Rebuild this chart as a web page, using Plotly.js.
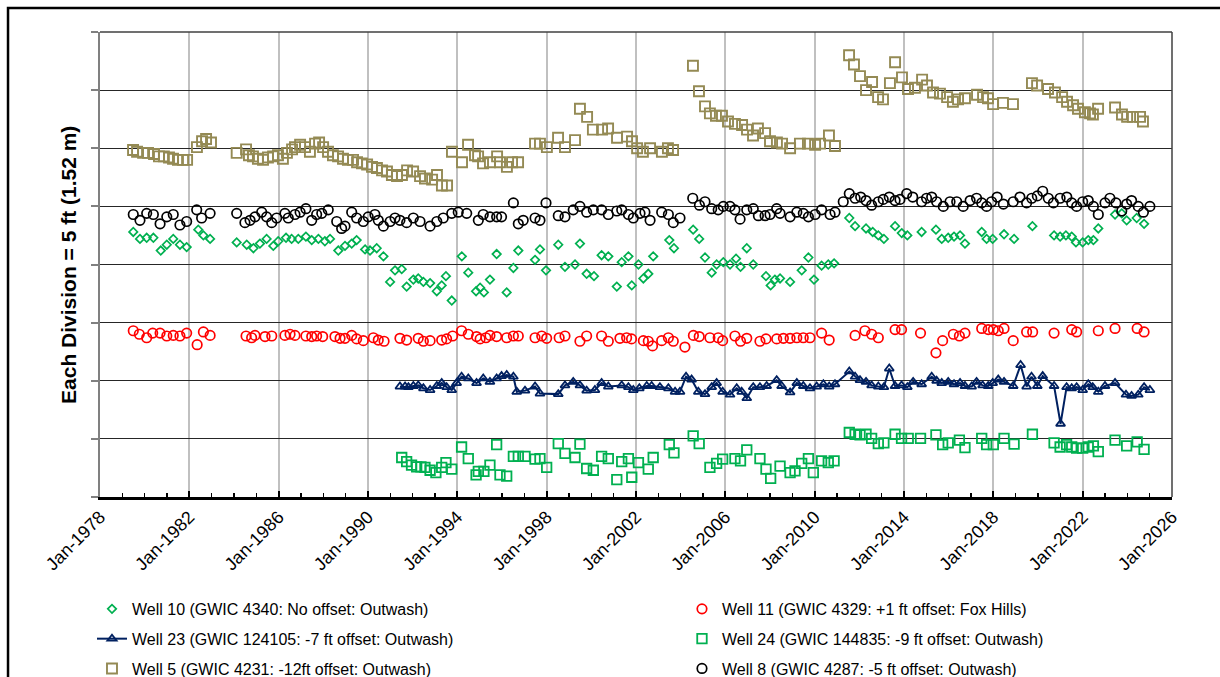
<!DOCTYPE html>
<html><head><meta charset="utf-8">
<script src="https://cdn.plot.ly/plotly-3.0.1.min.js"></script>
<style>html,body{margin:0;padding:0;background:#fff;} #chart{width:1220px;height:677px;}</style>
</head><body><div id="chart"></div>
<script>
// Tick positions (decimal years) and labels
const tickYears = [1978,1982,1986,1990,1994,1998,2002,2006,2010,2014,2018,2022,2026];
const tickLabels = ['Jan-1978','Jan-1982','Jan-1986','Jan-1990','Jan-1994','Jan-1998','Jan-2002','Jan-2006','Jan-2010','Jan-2014','Jan-2018','Jan-2022','Jan-2026'];
const yTitle = 'Each Division = 5 ft (1.52 m)';

// Well 10 (GWIC 4340)
const w10x = [1979.49,1979.79,1980.09,1980.39,1980.72,1980.99,1981.28,1981.58,1981.88,1982.40,1982.63,1982.93,
1984.12,1984.57,1984.87,1985.16,1985.46,1985.76,1985.98,1986.33,1986.58,1986.88,
1987.22,1987.48,1987.78,1988.07,1988.30,1988.67,1988.97,1989.27,1989.49,1989.87,
1990.09,1990.39,1990.69,1990.99,1991.21,1991.51,1991.73,1992.03,1992.25,1992.48,
1992.78,1993.08,1993.30,1993.49,1993.75,
1994.20,1994.49,1994.84,1995.02,1995.19,1995.46,1995.76,1996.21,1996.51,1996.73,
1997.48,1997.70,1997.97,1998.52,1998.82,1999.27,1999.49,1999.79,2000.12,2000.46,
2000.76,2001.14,2001.36,2001.66,2001.81,2002.11,2002.33,2002.55,2002.77,2003.49,
2003.70,2004.56,2004.83,2005.09,2005.39,2005.61,2005.91,2006.21,2006.48,2006.68,
2006.96,2007.25,2007.82,2008.03,2008.22,2008.45,2008.90,2009.42,2009.72,2009.97,
2010.31,2010.61,2010.87,
2011.55,2011.81,2012.30,2012.60,2012.85,2013.10,2013.60,2013.90,2014.15,2014.79,
2015.43,2015.69,2015.98,2016.24,2016.51,2016.73,2017.48,2017.70,2017.97,2018.48,
2018.93,2019.75,2020.72,2020.99,2021.25,2021.51,2021.70,2022.00,2022.25,2022.48,
2022.70,2023.45,2023.75,2023.97,2024.42,2024.75];
const w10y = [22.8,22.2,22.3,22.3,21.2,21.7,22.2,21.7,21.5,23.0,22.5,22.2,
21.9,21.7,21.4,21.8,22.2,21.6,22.0,22.3,22.2,22.2,
22.4,22.1,22.2,22.0,22.2,21.2,21.6,21.8,22.1,21.3,
21.2,21.4,20.7,18.5,19.5,19.6,18.1,18.7,18.8,18.5,
18.4,17.7,18.2,19.0,16.9,
20.7,19.3,17.7,18.0,17.6,18.7,20.9,17.6,19.7,21.2,
20.4,21.3,19.5,21.7,19.8,20.0,21.8,19.2,19.0,20.8,
20.7,18.1,20.2,20.7,18.2,20.0,18.8,19.2,20.7,22.1,
21.4,23.0,22.2,20.6,19.3,20.0,20.2,20.0,20.5,19.8,
21.4,20.0,19.0,18.2,18.7,18.8,18.5,19.5,20.6,18.7,
19.9,20.0,20.1,
24.0,23.3,23.1,22.8,22.5,22.2,23.3,22.7,22.5,22.8,
23.0,22.2,22.3,22.4,22.5,21.8,22.8,22.2,22.2,22.6,
22.2,23.3,22.5,22.4,22.5,22.4,21.9,21.9,22.1,22.1,
23.1,24.3,24.4,23.8,24.0,23.5];

// Well 11 (GWIC 4329)
const w11x = [1979.49,1979.76,1980.09,1980.36,1980.69,1980.99,1981.28,1981.58,1981.88,1982.35,1982.63,1982.93,
1984.54,1984.79,1984.94,1985.39,1985.69,1986.28,1986.51,1986.73,1987.22,1987.48,
1987.70,1987.97,1988.52,1988.75,1988.97,1989.27,1989.49,1989.79,1990.24,1990.46,
1990.72,1991.43,1991.73,1992.25,1992.48,1992.78,1993.30,1993.52,1993.79,1994.19,
1994.49,1994.86,1995.02,1995.28,1995.46,1995.76,1996.21,1996.51,1996.73,1997.48,
1997.78,1998.00,1998.56,1998.82,1999.49,1999.79,2000.46,2000.76,2001.28,2001.58,
2001.80,2002.33,2002.55,2002.74,2003.15,2003.45,2003.67,2004.19,2004.57,2004.83,
2005.31,2005.68,2005.88,2006.43,2006.68,2006.96,2007.55,2007.82,2008.30,2008.60,
2008.90,2009.20,2009.49,2009.79,2010.31,2010.65,
2011.81,2012.25,2012.55,2012.85,2013.60,2013.89,2014.74,2015.43,2015.73,2016.21,
2016.48,2016.73,2017.48,2017.77,2018.00,2018.22,2018.48,2018.89,2019.49,2019.76,
2020.72,2021.51,2021.73,2022.70,2023.45,2024.44,2024.75];
const w11y = [14.3,14.0,13.7,14.1,14.1,13.85,13.9,13.85,14.1,13.1,14.2,13.9,
13.85,13.7,13.9,13.8,13.85,13.9,14.0,13.9,13.85,13.8,
13.85,13.8,13.8,13.65,13.65,13.9,13.6,13.45,13.7,13.5,
13.4,13.65,13.5,13.65,13.4,13.45,13.5,13.6,13.85,14.3,
14.0,13.8,13.6,13.7,13.9,13.8,13.7,13.85,13.85,13.7,
13.85,13.65,13.7,13.85,13.4,13.85,13.85,13.4,13.65,13.7,
13.6,13.45,13.4,13.0,13.45,13.7,13.4,12.9,13.9,13.8,
13.7,13.7,13.45,13.85,13.4,13.65,13.4,13.6,13.6,13.65,
13.65,13.7,13.7,13.7,14.1,13.5,
13.9,14.3,14.0,13.7,14.4,14.4,14.1,12.4,13.45,14.0,
13.85,14.1,14.5,14.4,14.4,14.3,14.5,13.45,14.2,14.2,
14.1,14.4,14.2,14.3,14.5,14.5,14.2];

// Well 23 (GWIC 124105)
const w23x = [1991.43,1991.66,1991.81,1992.03,1992.25,1992.48,1992.78,1993.08,1993.30,1993.52,
1993.75,1993.97,1994.19,1994.49,1994.86,1995.16,1995.46,1995.76,1995.98,1996.21,
1996.51,1996.66,1997.03,1997.48,1997.70,1998.52,1998.82,1999.19,1999.49,1999.79,
2000.16,2000.46,2000.76,2001.36,2001.66,2001.88,2002.15,2002.48,2002.70,2003.07,
2003.45,2003.75,2003.97,2004.24,2004.49,2004.79,2005.09,2005.39,2005.61,2005.88,
2006.21,2006.51,2006.73,2006.96,2007.25,2007.55,2007.85,2008.30,2008.52,2008.90,
2009.20,2009.49,2009.79,2010.09,2010.39,2010.65,2010.91,2011.55,2011.81,2012.03,
2012.30,2012.55,2012.85,2013.10,2013.34,2013.60,2013.89,2014.15,2014.41,2014.79,
2015.24,2015.46,2015.69,2015.98,2016.24,2016.51,2016.73,2017.03,2017.25,2017.52,
2017.77,2017.97,2018.22,2018.48,2018.89,2019.22,2019.49,2019.71,2019.97,2020.21,
2020.72,2021.01,2021.28,2021.51,2021.73,2022.00,2022.25,2022.45,2022.70,2023.00,
2023.45,2023.94,2024.19,2024.49,2024.75,2025.01];
const w23y = [9.5,9.5,9.45,9.55,9.6,9.35,9.2,9.55,9.8,9.45,
9.2,9.8,10.35,10.2,9.8,10.2,9.9,10.2,10.4,10.5,
10.35,9.05,9.15,9.5,8.9,8.85,9.6,9.9,9.6,9.15,
9.2,9.8,9.5,9.6,9.45,9.2,9.35,9.55,9.55,9.45,
9.35,9.05,9.05,10.35,10.1,9.05,8.85,9.45,9.8,9.05,
8.8,9.35,9.05,8.5,9.45,9.45,9.55,10.05,9.55,9.0,
9.8,9.55,9.35,9.5,9.7,9.5,9.7,10.8,10.35,10.05,
9.9,9.6,9.5,9.45,11.05,9.55,9.6,9.45,9.9,9.7,
10.35,10.0,9.8,9.9,9.7,9.8,9.55,9.5,9.9,9.6,
9.55,9.8,10.1,9.9,9.55,11.35,9.5,10.35,9.55,10.4,
9.55,6.3,9.45,9.35,9.45,9.2,9.7,9.45,9.05,9.55,
9.8,8.8,8.7,8.8,9.45,9.2];

// Well 24 (GWIC 144835)
const w24x = [1991.51,1991.73,1991.95,1992.18,1992.37,1992.55,1992.78,1993.04,1993.30,1993.49,
1993.75,1994.19,1994.49,1994.84,1994.94,1995.19,1995.46,1995.76,1995.91,1996.21,
1996.51,1996.73,1997.03,1997.48,1997.70,1998.00,1998.52,1998.82,1999.27,1999.49,
1999.79,2000.09,2000.46,2000.76,2001.14,2001.36,2001.66,2001.81,2002.11,2002.55,
2002.77,2003.49,2003.70,2004.56,2004.83,2005.31,2005.61,2005.88,2006.43,2006.68,
2006.96,2007.55,2007.82,2008.03,2008.45,2008.90,2009.12,2009.42,2009.72,2009.94,
2010.31,2010.61,2010.87,2011.55,2011.81,2012.03,2012.30,2012.55,2012.85,2013.10,
2013.60,2013.89,2014.19,2014.74,2015.43,2015.73,2015.98,2016.48,2016.73,2017.48,
2017.70,2018.00,2018.48,2018.93,2019.75,2020.72,2020.99,2021.28,2021.51,2021.73,
2022.00,2022.25,2022.48,2022.70,2023.45,2023.97,2024.44,2024.75];
const w24y = [3.4,3.05,2.75,2.6,2.6,2.55,2.3,2.1,2.55,2.95,
2.4,4.3,3.3,1.9,2.2,2.2,2.75,4.5,1.9,1.8,
3.5,3.5,3.5,3.25,3.3,2.55,4.6,3.75,3.4,4.55,
2.45,2.3,3.5,3.3,1.5,3.05,3.3,1.7,2.95,2.4,
3.4,4.5,3.8,5.25,4.6,2.55,2.9,3.25,3.3,3.1,
4.05,3.3,2.4,1.6,2.65,2.1,2.25,2.9,3.3,2.1,
3.1,2.95,3.1,5.55,5.4,5.35,5.4,5.05,4.6,4.65,
5.4,5.05,5.05,5.05,5.35,4.5,4.65,4.9,4.25,5.05,
4.5,4.5,5.05,4.55,5.4,4.65,4.3,4.5,4.3,4.2,
4.2,4.3,4.4,3.9,4.9,4.4,4.75,4.1];

// Well 5 (GWIC 4231)
const w5x = [1979.48,1979.66,1979.93,1980.15,1980.42,1980.64,1980.86,1981.09,1981.27,1981.49,1981.72,1981.90,
1982.34,1982.57,1982.75,1982.97,
1984.12,1984.54,1984.67,1984.85,1985.07,1985.30,1985.52,1985.75,1985.97,1986.19,
1986.37,1986.60,1986.73,1986.96,1987.18,1987.40,1987.63,1987.81,1987.99,1988.21,
1988.43,1988.66,1988.88,1989.10,1989.33,1989.51,1989.73,1989.96,1990.18,1990.40,
1990.63,1990.85,1991.07,1991.30,1991.52,1991.75,1992.02,1992.33,1992.55,1992.87,
1993.09,1993.31,1993.54,
1993.76,1994.21,1994.48,1994.79,1994.93,1995.15,1995.46,1995.78,1995.91,1996.22,
1996.45,1996.72,
1997.48,1997.70,1998.01,1998.51,1998.82,1999.27,1999.49,1999.81,2000.07,2000.48,
2000.75,2001.15,2001.60,2001.82,2002.05,2002.31,2002.63,2003.16,2003.43,2003.66,
2004.55,2004.82,2005.09,2005.31,2005.58,2005.85,2006.12,2006.43,2006.75,2006.97,
2007.24,2007.46,2007.78,2008.00,2008.31,2008.54,2008.90,2009.34,2009.70,2010.02,
2010.24,2010.64,2010.91,
2011.54,2011.76,2012.03,2012.30,2012.57,2012.84,2013.06,2013.37,2013.60,2013.91,
2014.18,2014.49,2014.81,2015.03,2015.30,2015.61,2015.93,2016.19,2016.42,2016.73,
2017.27,2017.54,2017.76,2017.99,2018.43,2018.88,
2019.73,2019.96,2020.45,2020.76,2021.08,2021.30,2021.57,2021.79,2022.10,2022.33,
2022.46,2022.69,2023.45,2023.76,2023.99,2024.25,2024.57,2024.70];
const w5y = [29.85,29.7,29.6,29.6,29.5,29.3,29.3,29.2,29.1,29.0,29.0,29.0,
30.1,30.6,30.8,30.5,
29.6,29.9,29.4,29.3,29.1,29.0,29.2,29.3,29.4,29.1,
29.6,29.9,30.1,30.3,30.1,29.7,30.4,30.5,30.1,29.7,
29.4,29.3,29.1,29.0,29.0,28.8,28.7,28.6,28.4,28.3,
28.1,28.0,27.7,27.6,27.7,28.1,28.0,27.6,27.4,27.3,
27.7,26.8,26.8,
29.7,28.8,30.3,29.4,29.3,28.7,28.8,29.3,28.8,28.4,
28.8,28.8,
30.4,30.4,30.1,30.9,30.1,30.7,33.4,32.7,31.6,31.6,
31.7,30.9,31.0,30.6,30.0,29.7,30.0,29.7,30.0,29.85,
37.1,34.9,33.6,33.0,32.8,32.8,32.3,32.1,32.0,31.6,
31.1,31.7,31.3,30.6,30.5,30.4,30.0,30.4,30.4,30.3,
30.4,31.1,30.2,
38.0,37.2,36.2,35.0,35.7,34.4,34.2,35.6,37.4,36.1,
35.1,35.2,35.9,35.4,34.8,34.7,34.4,34.0,34.2,34.3,
34.6,34.4,34.3,33.8,33.9,33.8,
35.6,35.4,35.1,34.8,34.4,34.0,33.7,33.4,33.1,33.0,
32.9,33.4,33.5,32.9,32.7,32.7,32.7,32.3];

// Well 8 (GWIC 4287)
const w8x = [1979.49,1979.79,1980.09,1980.39,1980.69,1980.99,1981.28,1981.58,1981.88,1982.33,1982.55,1982.93,
1984.12,1984.49,1984.72,1984.94,1985.24,1985.46,1985.69,1985.91,1986.28,1986.43,
1986.73,1986.96,1987.22,1987.48,1987.70,1987.93,1988.22,1988.60,1988.82,1988.97,
1989.27,1989.49,1989.79,1990.01,1990.31,1990.46,1990.69,1990.99,1991.21,1991.43,
1991.73,1992.03,
1992.33,1992.78,1993.08,1993.37,1993.75,1994.04,1994.42,1994.94,1995.16,1995.46,
1995.76,1995.98,1996.51,1996.73,1996.95,1997.48,1997.70,1997.97,1998.52,1998.82,
1999.19,1999.49,1999.79,2000.09,2000.46,2000.76,2001.14,2001.36,2001.66,2001.88,
2002.18,2002.40,2002.63,2003.15,2003.45,2003.67,2003.97,
2004.54,2004.84,2005.09,2005.39,2005.68,2005.91,2006.21,2006.43,2006.66,2006.96,
2007.25,2007.48,2007.78,2008.00,2008.30,2008.45,2008.90,2009.20,2009.49,2009.72,
2010.02,2010.31,2010.69,2010.91,
2011.28,2011.55,2011.81,2012.06,2012.30,2012.55,2012.85,2013.07,2013.34,2013.60,
2013.82,2014.12,2014.39,2014.79,2015.01,2015.24,2015.46,2015.76,2016.06,2016.36,
2016.65,2016.96,2017.25,2017.48,2017.70,2017.92,2018.17,2018.45,2018.89,2019.19,
2019.49,2019.72,2019.97,2020.21,2020.46,2020.69,2020.99,2021.29,2021.51,2021.73,
2022.00,2022.25,2022.48,2022.70,2023.00,2023.22,2023.49,2023.75,2023.97,2024.19,
2024.49,2024.72,2025.01];
const w8y = [24.3,23.8,24.4,24.3,23.5,24.1,24.3,23.4,23.7,24.7,24.0,24.4,
24.4,23.6,23.8,24.1,24.5,24.1,23.6,24.0,24.4,24.0,
24.3,24.5,24.8,23.8,24.3,24.4,24.7,23.7,23.1,23.3,
24.5,24.0,23.7,24.1,24.3,23.8,23.3,23.7,24.0,23.8,
23.6,24.0,
23.7,23.3,23.7,24.0,24.4,24.5,24.4,23.8,24.3,24.1,
24.1,24.1,25.3,23.5,23.8,24.0,23.8,25.3,24.2,24.1,
24.7,25.0,24.5,24.7,24.7,24.3,24.6,24.7,24.3,24.0,
24.4,24.5,23.8,24.5,24.3,23.6,24.0,
25.7,25.1,25.4,24.8,24.7,25.0,25.0,24.7,23.9,24.7,
24.8,24.2,24.2,24.3,24.8,24.4,24.1,24.5,24.4,24.1,
24.3,24.7,24.3,24.5,
25.4,26.1,25.7,25.8,25.5,25.1,25.4,25.6,25.8,25.5,
25.6,26.1,25.8,25.4,25.7,25.8,25.4,25.0,25.4,25.4,
25.0,25.5,25.7,25.3,25.0,25.4,25.8,25.2,25.4,25.8,
25.3,25.7,25.9,26.3,25.7,25.3,25.7,25.8,25.3,25.0,
25.4,25.5,25.0,24.3,25.3,25.7,25.3,24.6,25.2,25.5,
25.0,24.5,25.0];

const FONT = '"Liberation Sans", Arial, sans-serif';
const green = '#00B050', red = '#FF0000', navy = '#002060', olive = '#948A54', black = '#000000';

function pts(name, x, y, symbol, color, size, lw, legend) {
  return {type:'scatter', mode:'markers', name:name, x:x, y:y, legend:legend, legendgroup:name,
    marker:{symbol:symbol, size:size, color:color, line:{color:color, width:lw}}, hoverinfo:'x+y'};
}

const traces = [
  pts('Well 10 (GWIC 4340: No offset: Outwash)', w10x, w10y, 'diamond-open', green, 6.5, 1.7, 'legend'),
  pts('Well 11 (GWIC 4329: +1 ft offset: Fox Hills)', w11x, w11y, 'circle-open', red, 9.5, 1.7, 'legend2'),
  {type:'scatter', mode:'lines+markers', name:'Well 23 (GWIC 124105: -7 ft offset: Outwash)', x:w23x, y:w23y,
   legend:'legend', legendgroup:'w23', line:{color:navy, width:2},
   marker:{symbol:'triangle-up-open', size:8, color:navy, line:{color:navy, width:1.8}}},
  pts('Well 24 (GWIC 144835: -9 ft offset: Outwash)', w24x, w24y, 'square-open', green, 9.5, 1.8, 'legend2'),
  pts('Well 5 (GWIC 4231: -12ft offset: Outwash)', w5x, w5y, 'square-open', olive, 10, 1.9, 'legend'),
  pts('Well 8 (GWIC 4287: -5 ft offset: Outwash)', w8x, w8y, 'circle-open', black, 9.5, 1.7, 'legend2')
];

const layout = {
  width:1220, height:677,
  margin:{l:100, r:48, t:32, b:180, autoexpand:false},
  paper_bgcolor:'#ffffff', plot_bgcolor:'#ffffff',
  font:{family:FONT, color:'#000', size:16},
  showlegend:true,
  xaxis:{
    range:[1978,2026], tickmode:'array', tickvals:tickYears, ticktext:tickLabels,
    tickangle:-45, tickfont:{family:FONT, size:18, color:'#000'},
    ticks:'inside', ticklen:6, tickwidth:2, tickcolor:'#000',
    showgrid:true, gridcolor:'#c0c0c0', gridwidth:2,
    showline:true, linecolor:'#000', linewidth:2.5, zeroline:false,
    minor:{tickmode:'linear', tick0:1978, dtick:1, ticks:'inside', ticklen:4, tickwidth:1.5, tickcolor:'#000', showgrid:false}
  },
  yaxis:{
    range:[0,40], tickmode:'linear', tick0:0, dtick:5, showticklabels:false,
    ticks:'outside', ticklen:7, tickwidth:2, tickcolor:'#808080',
    showgrid:true, gridcolor:'#262626', gridwidth:1,
    showline:true, linecolor:'#808080', linewidth:2.5, zeroline:false
  },
  annotations:[
    {text:yTitle, xref:'paper', yref:'paper', x:-0.0294, y:0.5, xanchor:'center', yanchor:'middle',
     textangle:-90, showarrow:false, font:{family:FONT, size:21, weight:'bold', color:'#000'}}
  ],
  legend:{xref:'container', yref:'container', x:0.0754, y:0.1256, xanchor:'left', yanchor:'top', orientation:'v', tracegroupgap:6,
    font:{family:FONT, size:16, color:'#000'}, bgcolor:'rgba(0,0,0,0)'},
  legend2:{xref:'container', yref:'container', x:0.559, y:0.1256, xanchor:'left', yanchor:'top', orientation:'v', tracegroupgap:6,
    font:{family:FONT, size:16, color:'#000'}, bgcolor:'rgba(0,0,0,0)'},
  shapes:[
    {type:'line', xref:'paper', yref:'paper', x0:0, x1:1, y0:1, y1:1, line:{color:'#404040', width:1.5}, layer:'above'},
    {type:'line', xref:'paper', yref:'paper', x0:1, x1:1, y0:0, y1:1, line:{color:'#404040', width:1.5}, layer:'above'},
    {type:'rect', xref:'paper', yref:'paper', x0:-0.0858, x1:1.06, y0:-0.6, y1:1.0516, line:{color:'#000', width:2.5}, fillcolor:'rgba(0,0,0,0)', layer:'above'}
  ]
};

Plotly.newPlot('chart', traces, layout, {displayModeBar:false, staticPlot:true});
</script>
</body></html>
